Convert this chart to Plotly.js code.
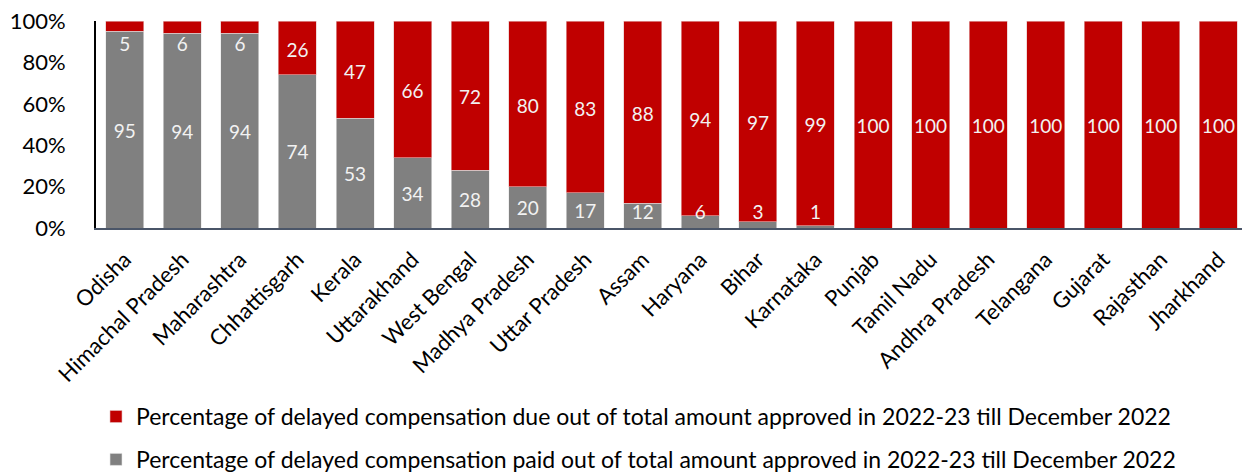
<!DOCTYPE html>
<html><head><meta charset="utf-8">
<script src="https://cdn.plot.ly/plotly-3.0.1.min.js"></script>
<style>html,body{margin:0;padding:0;background:#fff}#chart{width:1242px;height:472px}</style>
</head><body><div id="chart"></div>
<script>
const states = ["Odisha","Himachal Pradesh","Maharashtra","Chhattisgarh","Kerala","Uttarakhand","West Bengal","Madhya Pradesh","Uttar Pradesh","Assam","Haryana","Bihar","Karnataka","Punjab","Tamil Nadu","Andhra Pradesh","Telangana","Gujarat","Rajasthan","Jharkhand"];
const paid = [95,94,94,74,53,34,28,20,17,12,6,3,1,0,0,0,0,0,0,0];
const due = [5,6,6,26,47,66,72,80,83,88,94,97,99,100,100,100,100,100,100,100];
const dueName = "Percentage of delayed compensation due out of total amount approved in 2022-23 till December 2022";
const paidName = "Percentage of delayed compensation paid out of total amount approved in 2022-23 till December 2022";
const yTicks = [0,20,40,60,80,100];
const yTickText = ["0%","20%","40%","60%","80%","100%"];

const RED = "#C00000", GRAY = "#808080";
const font = "Lato, 'Open Sans', sans-serif";

// label positions (midpoint of segment, nudged for thin segments)
const paidLabY = paid.map(v => Math.max(v/2 - 1.5, 6.5));
const dueLabY = paid.map((p,i) => Math.min(p + due[i]/2 - 2, 88));

const traces = [
  {type:"bar", x:states, y:paid, name:paidName, legendgroup:"p", legendrank:2, marker:{color:GRAY, line:{color:"#e6e6e6", width:0.6}}, hoverinfo:"skip", showlegend:true},
  {type:"bar", x:states, y:due, name:dueName, legendgroup:"d", legendrank:1, marker:{color:RED, line:{color:"#e6c0c0", width:0.6}}, hoverinfo:"skip", showlegend:true},
  {type:"scatter", mode:"text", x:states.filter((s,i)=>paid[i]>0), y:paidLabY.filter((s,i)=>paid[i]>0),
   text:paid.filter(v=>v>0).map(String), textfont:{color:"#f2f2f2", size:19, family:font}, showlegend:false, hoverinfo:"skip", cliponaxis:false},
  {type:"scatter", mode:"text", x:states.filter((s,i)=>due[i]>0), y:dueLabY.filter((s,i)=>due[i]>0),
   text:due.filter(v=>v>0).map(String), textfont:{color:"#f2f2f2", size:19, family:font}, showlegend:false, hoverinfo:"skip", cliponaxis:false}
];

const layout = {
  width:1242, height:472,
  margin:{l:96, r:0, t:21, b:244, autoexpand:false},
  barmode:"stack", bargap:0.34,
  paper_bgcolor:"#fff", plot_bgcolor:"#fff",
  font:{family:font, color:"#000"},
  xaxis:{range:[-0.5,19.41], tickangle:-45, tickfont:{size:22, family:font, color:"#000"},
         showline:true, linecolor:"#4a5568", linewidth:2, ticks:"", showgrid:false, zeroline:false, fixedrange:true, ticklabelstandoff:8, automargin:false},
  yaxis:{range:[0,100], tickvals:yTicks, ticktext:yTickText, tickfont:{size:22, family:font, color:"#000"},
         showline:true, linecolor:"#000", linewidth:2, ticks:"", showgrid:false, zeroline:false, ticklabelstandoff:24, automargin:false},
  legend:{orientation:"v", x:0.0, xanchor:"left", y:-0.807, yanchor:"top", traceorder:"grouped",
          font:{size:23, family:font, color:"#000"}, tracegroupgap:10, itemwidth:30},
  showlegend:true
};
Plotly.newPlot("chart", traces, layout, {staticPlot:true, displayModeBar:false});
</script></body></html>
